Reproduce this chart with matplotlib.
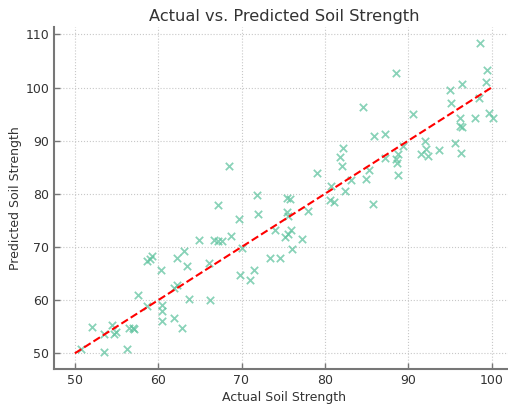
import numpy as np
import matplotlib
matplotlib.use("Agg")
from matplotlib import pyplot as plt

# values
actual = [50.8, 52.0, 53.55, 53.5, 54.5, 54.7, 54.9, 56.2, 56.5, 56.95,
          57.1, 57.55, 58.6, 58.7, 59.05, 59.3, 60.35, 60.4, 60.4, 60.4,
          61.9, 61.9, 62.3, 62.2, 62.8, 63.15, 63.45, 63.7, 64.9, 66.1,
          66.2, 66.7, 67.2, 67.6, 67.2, 68.45, 68.7, 69.7, 69.8, 70.1,
          71.0, 71.5, 71.9, 72.0, 73.4, 74.6, 74.0, 75.5, 75.8, 75.4,
          75.6, 75.9, 75.6, 75.2, 76.0, 77.3, 78.0, 79.05, 80.7, 80.6,
          81.05, 81.8, 82.2, 82.1, 82.4, 83.1, 84.6, 84.9, 85.35, 85.8,
          85.9, 87.2, 87.2, 88.5, 88.5, 88.6, 88.8, 88.8, 89.4, 90.6,
          92.0, 91.5, 92.1, 92.4, 93.7, 95.0, 95.1, 95.6, 96.2, 96.3,
          96.2, 96.5, 96.5, 98.0, 98.5, 98.6, 99.3, 99.4, 99.7, 100.2]
predicted = [50.8, 55.0, 50.2, 53.7, 55.4, 53.6, 54.0, 50.9, 54.8, 54.8,
             54.5, 60.9, 58.9, 67.3, 67.8, 68.4, 65.6, 59.0, 57.9, 56.1,
             56.6, 62.3, 62.9, 67.9, 54.7, 69.3, 66.5, 60.2, 71.3, 67.0,
             60.1, 71.3, 71.2, 71.1, 77.9, 85.3, 72.0, 75.3, 64.8, 69.9,
             63.8, 65.7, 79.8, 76.2, 67.9, 67.9, 73.2, 79.3, 79.0, 76.5,
             75.9, 73.2, 72.4, 71.9, 69.6, 71.6, 76.8, 84.0, 81.4, 78.8,
             78.5, 86.9, 88.7, 85.3, 80.5, 82.6, 96.4, 82.8, 84.4, 78.1,
             90.8, 91.2, 86.7, 102.8, 86.5, 85.8, 87.5, 83.5, 89.1, 95.0,
             90.0, 87.5, 88.5, 87.2, 88.3, 99.6, 97.1, 89.5, 94.2, 87.7,
             92.7, 92.5, 100.6, 94.2, 98.1, 108.3, 101.1, 103.4, 95.2, 94.2]
ideal = [50, 100]

text_color = "#333333"

fig = plt.figure(figsize=(5.08, 4.04), dpi=100)
ax = fig.add_axes([54 / 508, 35 / 404, 460 / 508, 342 / 404])

ax.scatter(actual, predicted, marker="x", color="#62c4a0", alpha=0.75,
           s=28, linewidths=1.3, zorder=3)
ax.plot(ideal, ideal, color="red", linestyle="--", linewidth=1.5, zorder=4)

ax.set_xlim(47.5, 102.7)
ax.set_ylim(47.05, 111.4)
ax.set_xticks(np.arange(50, 101, 10))
ax.set_yticks(np.arange(50, 111, 10))

ax.grid(True, linestyle=":", color="#c8c8c8", linewidth=0.8)
ax.set_axisbelow(True)
for side in ["top", "right"]:
    ax.spines[side].set_visible(False)
for side in ["left", "bottom"]:
    ax.spines[side].set_color("#777777")
    ax.spines[side].set_linewidth(1.5)
ax.tick_params(direction="in", length=4, width=1, color="#777777",
               labelsize=9, labelcolor=text_color)

ax.set_title("Actual vs. Predicted Soil Strength", fontsize=11.7,
             color=text_color, pad=4)
ax.set_xlabel("Actual Soil Strength", fontsize=9, color=text_color, labelpad=3)
ax.set_ylabel("Predicted Soil Strength", fontsize=9, color=text_color, labelpad=2.5)

fig.savefig("out.png", dpi=100)
plt.close(fig)
